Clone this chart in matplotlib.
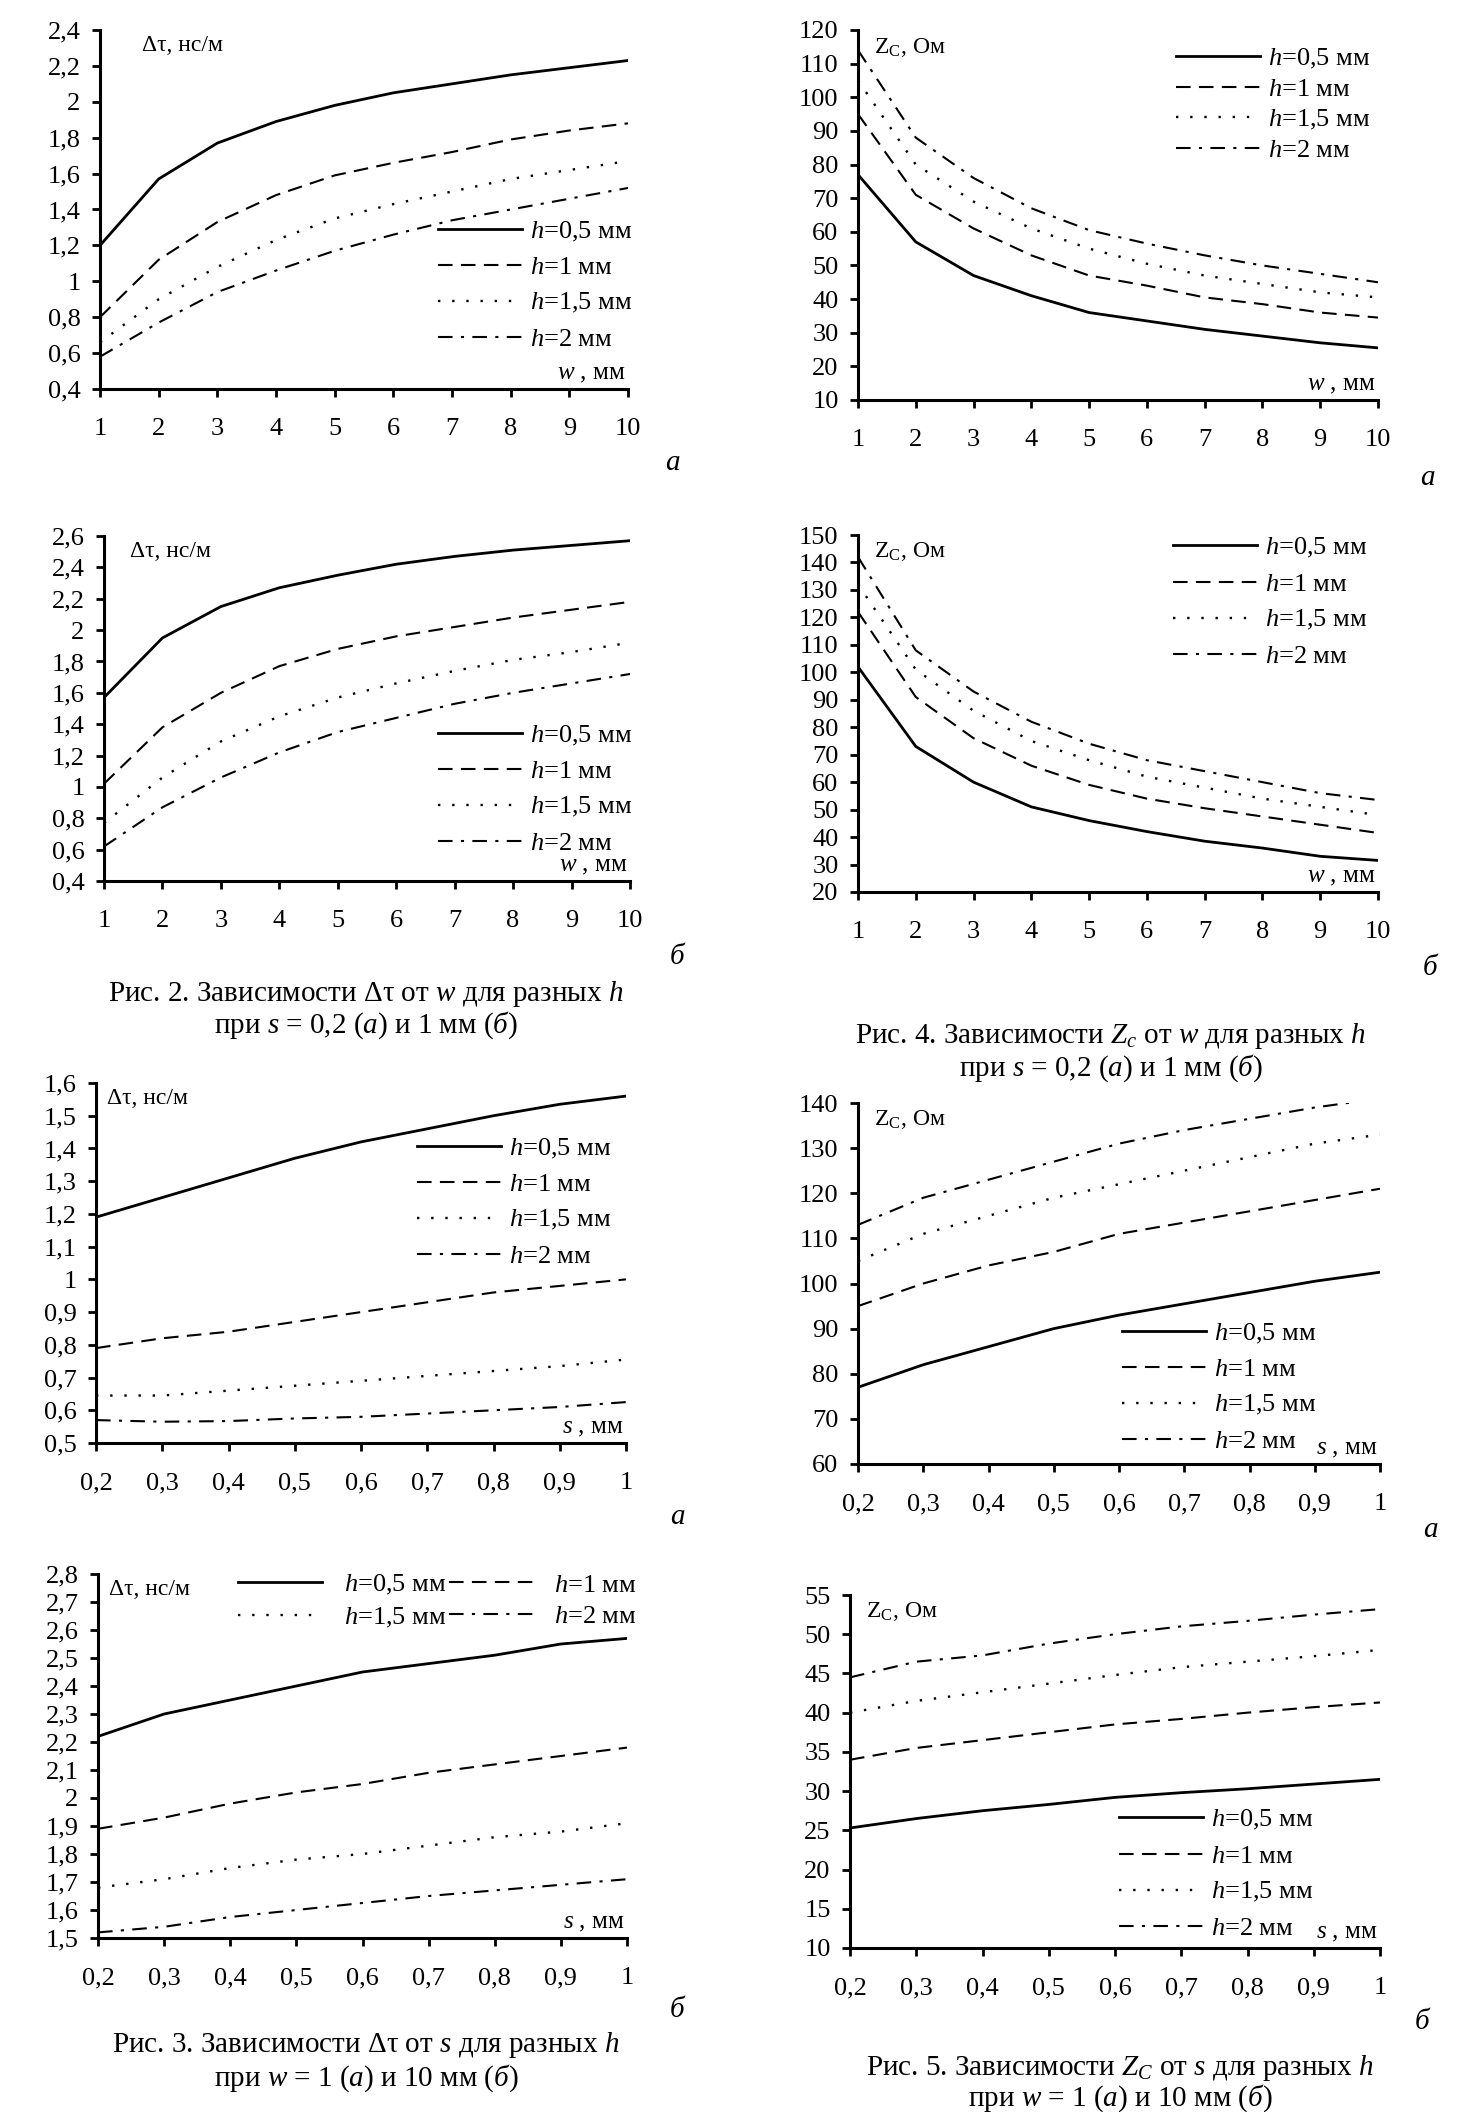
import matplotlib
matplotlib.use("Agg")
from matplotlib import pyplot as plt
from matplotlib.ticker import FuncFormatter, MultipleLocator

plt.rcParams["font.family"] = ["Liberation Serif", "DejaVu Serif"]
plt.rcParams["mathtext.fontset"] = "custom"
plt.rcParams["mathtext.rm"] = "Liberation Serif"
plt.rcParams["mathtext.it"] = "Liberation Serif:italic"

# x values
w = [1, 2, 3, 4, 5, 6, 7, 8, 9, 10]
s = [0.2, 0.3, 0.4, 0.5, 0.6, 0.7, 0.8, 0.9, 1.0]
h_names = [r"$h$=0,5 мм", r"$h$=1 мм", r"$h$=1,5 мм", r"$h$=2 мм"]

# Рис. 2 а: dt(w), s = 0.2
dt_w_a05 = [1.20, 1.57, 1.77, 1.89, 1.98, 2.05, 2.10, 2.15, 2.19, 2.23]
dt_w_a1 = [0.80, 1.12, 1.33, 1.48, 1.59, 1.66, 1.72, 1.79, 1.84, 1.88]
dt_w_a15 = [0.66, 0.90, 1.08, 1.23, 1.35, 1.43, 1.50, 1.57, 1.62, 1.67]
dt_w_a2 = [0.58, 0.77, 0.94, 1.06, 1.17, 1.26, 1.34, 1.40, 1.46, 1.52]
# Рис. 2 б: dt(w), s = 1
dt_w_b05 = [1.57, 1.95, 2.15, 2.27, 2.35, 2.42, 2.47, 2.51, 2.54, 2.57]
dt_w_b1 = [1.02, 1.38, 1.60, 1.77, 1.88, 1.96, 2.02, 2.08, 2.13, 2.18]
dt_w_b15 = [0.77, 1.06, 1.29, 1.45, 1.57, 1.66, 1.74, 1.81, 1.86, 1.92]
dt_w_b2 = [0.62, 0.87, 1.06, 1.22, 1.35, 1.44, 1.53, 1.60, 1.66, 1.72]

# Рис. 4 а: Zc(w), s = 0.2
z_w_a05 = [77, 57, 47, 41, 36, 33.5, 31, 29, 27, 25.5]
z_w_a1 = [95, 71, 61, 53, 47, 44, 40.5, 38.5, 36, 34.5]
z_w_a15 = [105, 80, 69, 61, 55, 50.5, 47, 44.5, 42, 40.5]
z_w_a2 = [114, 88, 76, 67, 60.5, 56.5, 53, 50, 47.5, 45]
# Рис. 4 б: Zc(w), s = 1
z_w_b05 = [102, 73, 60, 51, 46, 42, 38.5, 36, 33, 31.5]
z_w_b1 = [122, 91, 76, 66, 59, 54, 50.5, 47.5, 44.5, 41.5]
z_w_b15 = [132, 101, 86, 75, 68, 62, 58, 54, 51, 48]
z_w_b2 = [142, 108, 93, 82, 74, 68, 64, 60, 56, 53.5]

# Рис. 3 а: dt(s), w = 1
dt_s_a05 = [1.19, 1.25, 1.31, 1.37, 1.42, 1.46, 1.50, 1.535, 1.56]
dt_s_a1 = [0.79, 0.82, 0.84, 0.87, 0.90, 0.93, 0.96, 0.98, 1.00]
dt_s_a15 = [0.645, 0.645, 0.66, 0.675, 0.69, 0.705, 0.72, 0.735, 0.755]
dt_s_a2 = [0.57, 0.565, 0.567, 0.575, 0.58, 0.59, 0.60, 0.61, 0.625]
# Рис. 3 б: dt(s), w = 10
dt_s_b05 = [2.22, 2.30, 2.35, 2.40, 2.45, 2.48, 2.51, 2.55, 2.57]
dt_s_b1 = [1.89, 1.93, 1.98, 2.02, 2.05, 2.09, 2.12, 2.15, 2.18]
dt_s_b15 = [1.68, 1.71, 1.75, 1.78, 1.80, 1.83, 1.86, 1.88, 1.91]
dt_s_b2 = [1.52, 1.54, 1.575, 1.60, 1.625, 1.65, 1.67, 1.69, 1.71]

# Рис. 5 а: Zc(s), w = 1
z_s_a05 = [77, 82, 86, 90, 93, 95.5, 98, 100.5, 102.5]
z_s_a1 = [95, 100, 104, 107, 111, 113.5, 116, 118.5, 121]
z_s_a15 = [105, 111, 115, 119, 122, 125, 128, 131, 133]
z_s_a2 = [113, 119, 123, 127, 131, 134, 136.5, 139, 141]
# Рис. 5 б: Zc(s), w = 10
z_s_b05 = [25.3, 26.5, 27.5, 28.3, 29.2, 29.8, 30.3, 30.9, 31.5]
z_s_b1 = [34, 35.5, 36.5, 37.5, 38.5, 39.2, 40, 40.7, 41.3]
z_s_b15 = [40, 41.5, 42.6, 43.7, 44.8, 45.8, 46.5, 47.2, 48]
z_s_b2 = [44.5, 46.5, 47.3, 48.8, 50, 51, 51.7, 52.5, 53.2]

W, H = 1458, 2112
fig = plt.figure(figsize=(W / 100, H / 100), dpi=100)

styles = [dict(ls="-", lw=2.0),
          dict(ls=(0, (7, 4)), lw=1.5),
          dict(ls=(0, (1, 5)), lw=1.7),
          dict(ls=(0, (7, 4, 1.5, 4)), lw=1.5)]


def comma(v, pos):
    return ("%g" % round(v, 2)).replace(".", ",")


def panel(l, r, t, b, x, ys, ylim, ystep, ytitle, xtitle, leg):
    ax = fig.add_axes([l / W, 1 - b / H, (r - l) / W, (b - t) / H])
    lines = []
    for y, st, name in zip(ys, styles, h_names):
        lines += ax.plot(x, y, color="black", label=name, **st)
    ax.set_xlim(x[0], x[-1])
    ax.set_ylim(*ylim)
    ax.set_xticks(x)
    ax.yaxis.set_major_locator(MultipleLocator(ystep))
    ax.xaxis.set_major_formatter(FuncFormatter(comma))
    ax.yaxis.set_major_formatter(FuncFormatter(comma))
    for side in ["top", "right"]:
        ax.spines[side].set_visible(False)
    for side in ["left", "bottom"]:
        ax.spines[side].set_linewidth(2.2)
    ax.tick_params(axis="both", direction="out", length=6, width=2, labelsize=19)
    ax.tick_params(axis="x", pad=15)
    ax.tick_params(axis="y", pad=8)
    ax.text(ytitle[1], 0.985, ytitle[0], transform=ax.transAxes,
            fontsize=17, va="top", ha="left")
    ax.text(0.995, 0.012, xtitle, transform=ax.transAxes, fontsize=18,
            va="bottom", ha="right")
    lx, ly, sp, ncol = leg
    if ncol == 2:
        order = [0, 2, 1, 3]
        pad = 0.8
    else:
        order = [0, 1, 2, 3]
        pad = 0.3
    ax.legend([lines[i] for i in order], [h_names[i] for i in order],
              loc="upper left", bbox_to_anchor=(lx / W, 1 - ly / H),
              bbox_transform=fig.transFigure, frameon=False, fontsize=19,
              borderpad=0, borderaxespad=0, handlelength=3.2,
              handletextpad=pad, labelspacing=sp, ncol=ncol, columnspacing=0.1)
    return ax


dt_label = ("Δτ, нс/м", 0.08)
z_label = (r"Z$_{\rm C}$, Ом", 0.03)
w_label = r"$w$ , мм"
s_label = r"$s$ , мм"

# left column
panel(100, 628, 30, 389, w, [dt_w_a05, dt_w_a1, dt_w_a15, dt_w_a2],
      (0.4, 2.4), 0.2, dt_label, w_label, (438, 220, 0.45, 1))
panel(104, 630, 536, 881, w, [dt_w_b05, dt_w_b1, dt_w_b15, dt_w_b2],
      (0.4, 2.6), 0.2, (dt_label[0], 0.05), w_label, (438, 724, 0.45, 1))
panel(96, 626, 1083, 1443, s, [dt_s_a05, dt_s_a1, dt_s_a15, dt_s_a2],
      (0.5, 1.6), 0.1, (dt_label[0], 0.02), s_label, (417, 1137, 0.45, 1))
panel(98, 627, 1574, 1938, s, [dt_s_b05, dt_s_b1, dt_s_b15, dt_s_b2],
      (1.5, 2.8), 0.1, (dt_label[0], 0.02), s_label, (238, 1573, 0.32, 2))

# right column
panel(858, 1378, 30, 400, w, [z_w_a05, z_w_a1, z_w_a15, z_w_a2],
      (10, 120), 10, z_label, w_label, (1176, 47, 0.25, 1))
panel(858, 1378, 535, 892, w, [z_w_b05, z_w_b1, z_w_b15, z_w_b2],
      (20, 150), 10, z_label, w_label, (1173, 536, 0.47, 1))
panel(858, 1380, 1103, 1464, s, [z_s_a05, z_s_a1, z_s_a15, z_s_a2],
      (60, 140), 10, z_label, s_label, (1122, 1322, 0.45, 1))
panel(850, 1380, 1595, 1948, s, [z_s_b05, z_s_b1, z_s_b15, z_s_b2],
      (10, 55), 5, z_label, s_label, (1119, 1808, 0.47, 1))

# sub-figure letters
for x, y, t in [(672, 463, "а"), (1427, 478, "а"), (677, 957, "б"), (1430, 968, "б"),
                (677, 1517, "а"), (1430, 1530, "а"), (677, 2010, "б"), (1422, 2022, "б")]:
    fig.text(x / W, 1 - y / H, t, fontsize=21, style="italic", ha="center", va="center")

# captions
captions = [
    (366, 994, r"Рис. 2. Зависимости Δτ от $w$ для разных $h$"),
    (366, 1025, r"при $s$ = 0,2 ($а$) и 1 мм ($б$)"),
    (1111, 1036, r"Рис. 4. Зависимости $Z_c$ от $w$ для разных $h$"),
    (1111, 1068, r"при $s$ = 0,2 ($а$) и 1 мм ($б$)"),
    (366, 2045, r"Рис. 3. Зависимости Δτ от $s$ для разных $h$"),
    (366, 2078, r"при $w$ = 1 ($а$) и 10 мм ($б$)"),
    (1120, 2068, r"Рис. 5. Зависимости $Z_C$ от $s$ для разных $h$"),
    (1120, 2098, r"при $w$ = 1 ($а$) и 10 мм ($б$)"),
]
for x, y, t in captions:
    fig.text(x / W, 1 - y / H, t, fontsize=21, ha="center", va="center")

fig.savefig("out.png", dpi=100)
